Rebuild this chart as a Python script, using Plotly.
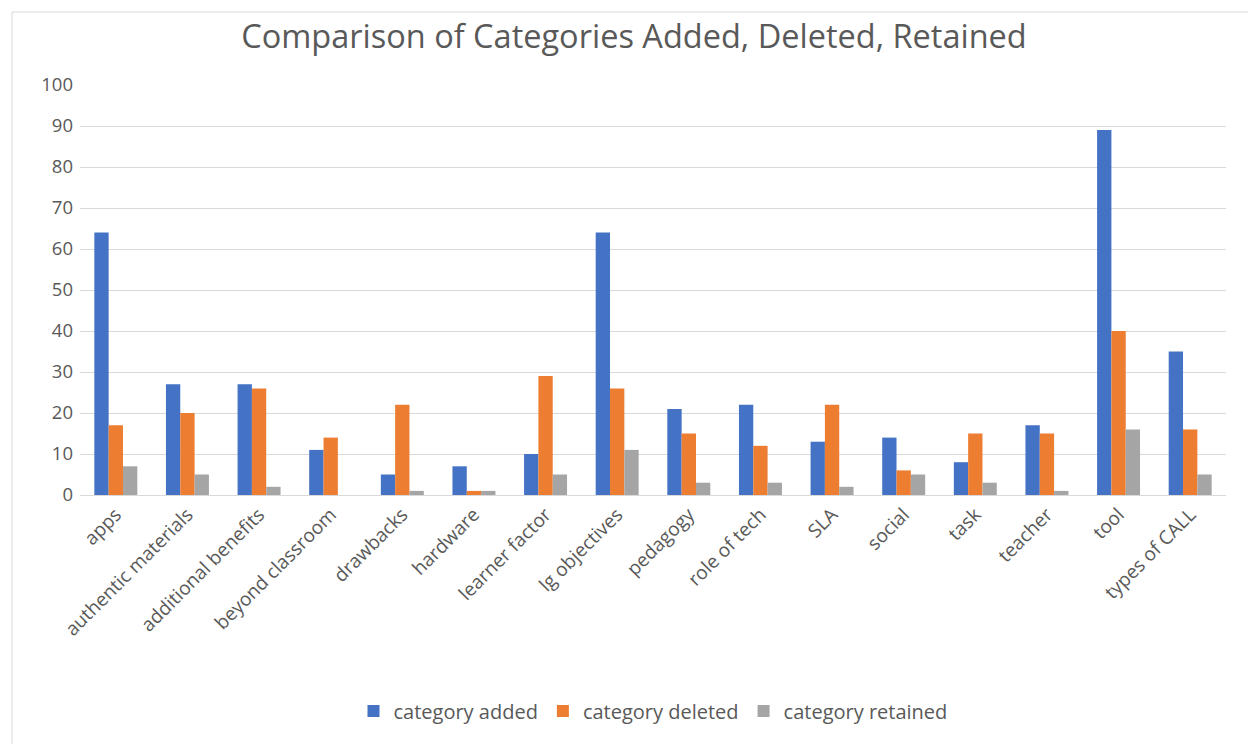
import plotly.graph_objects as go

categories = ["apps", "authentic materials", "additional benefits", "beyond classroom",
              "drawbacks", "hardware", "learner factor", "lg objectives", "pedagogy",
              "role of tech", "SLA", "social", "task", "teacher", "tool", "types of CALL"]
added = [64, 27, 27, 11, 5, 7, 10, 64, 21, 22, 13, 14, 8, 17, 89, 35]
deleted = [17, 20, 26, 14, 22, 1, 29, 26, 15, 12, 22, 6, 15, 15, 40, 16]
retained = [7, 5, 2, 0, 1, 1, 5, 11, 3, 3, 2, 5, 3, 1, 16, 5]

series = [("category added", added, "#4472C4"),
          ("category deleted", deleted, "#ED7D31"),
          ("category retained", retained, "#A5A5A5")]

fig = go.Figure()
for name, vals, col in series:
    fig.add_trace(go.Bar(x=categories, y=vals, name=name, marker_color=col,
                         marker_line_width=0))

L, R, T, B = 80, 22, 85, 249
W, H = 1248, 744
pw, ph = W - L - R, H - T - B
font_family = "Open Sans, Liberation Sans, sans-serif"
fig.update_layout(
    width=W, height=H,
    margin=dict(l=L, r=R, t=T, b=B),
    paper_bgcolor="white", plot_bgcolor="white",
    barmode="group", bargap=0.40, bargroupgap=0,
    font=dict(family=font_family, color="#595959"),
    title=dict(text="Comparison of Categories Added, Deleted, Retained",
               x=0.508, xanchor="center", y=1 - 37 / H, yanchor="middle",
               font=dict(size=32.5, color="#595959", family=font_family)),
    legend=dict(orientation="h", x=0.5, xanchor="center", y=-(711 - (H - B)) / ph,
                yanchor="middle", font=dict(size=20, color="#595959"),
                traceorder="normal"),
    xaxis=dict(tickangle=-45, tickfont=dict(size=19, color="#595959"),
               showgrid=False, showline=True, linecolor="#d9d9d9", linewidth=1,
               ticks=""),
    yaxis=dict(range=[0, 100], dtick=10, tickfont=dict(size=18.5, color="#595959"),
               showgrid=True, gridcolor="#d9d9d9", gridwidth=1, zeroline=False,
               ticks="", ticklabelstandoff=6),
    shapes=[dict(type="rect", xref="paper", yref="paper",
                 x0=(12 - L) / pw, x1=1.05, y0=-1.0, y1=(H - B - 12) / ph,
                 line=dict(color="#d9d9d9", width=1), fillcolor="rgba(0,0,0,0)",
                 layer="below")],
)

fig.write_html("out.html")
